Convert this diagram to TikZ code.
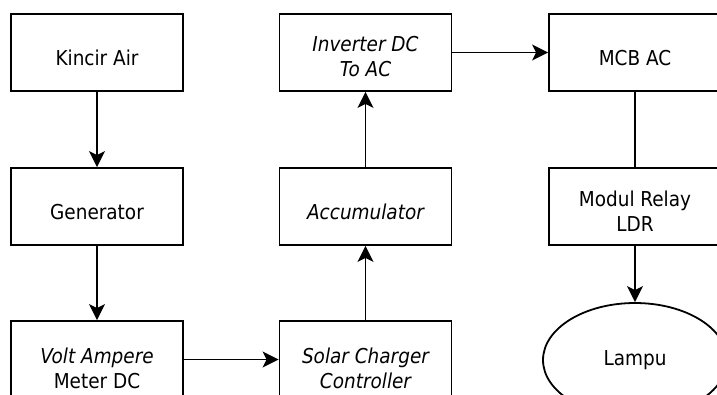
\documentclass[tikz,border=0pt]{standalone}
\usepackage{fontspec}
\setmainfont{DejaVu Sans Condensed}
\usetikzlibrary{arrows.meta,shapes.geometric}
\newcommand{\onel}[2]{\raisebox{-#1pt}[0pt][0pt]{#2}}
\newcommand{\twol}[3]{\raisebox{-#1pt}[0pt][0pt]{\begin{tabular}{@{}c@{}}#2\\#3\end{tabular}}}
\tikzset{
  blk/.style={draw, line width=1.8pt, minimum width=172pt, minimum height=77pt, inner sep=0pt,
    font=\fontsize{20.5}{24.5}\selectfont},
  oval/.style={draw, ellipse, line width=1.8pt, minimum width=184pt, minimum height=114pt, inner sep=0pt,
    font=\fontsize{20.5}{24.5}\selectfont},
  arr/.style={line width=1.8pt, -{Stealth[length=16pt,width=16pt,inset=4pt]}},
  ln/.style={line width=1.8pt}
}
\begin{document}
\begin{tikzpicture}[x=1pt,y=-1pt]
\useasboundingbox (0,0) rectangle (717,394);
\clip (0,0) rectangle (717,394);
\node[blk] (k) at (97,52.5) {\onel{13.3}{Kincir Air}};
\node[blk] (g) at (97,206.5) {\onel{13.3}{Generator}};
\node[blk] (v) at (97,359.5) {\twol{17}{\itshape Volt Ampere}{Meter DC}};
\node[blk] (s) at (365.5,359.5) {\twol{17}{\itshape Solar Charger}{\itshape Controller}};
\node[blk] (a) at (365.5,206.5) {\onel{13.3}{\itshape Accumulator}};
\node[blk] (i) at (365.5,52.5) {\twol{12}{\itshape Inverter DC}{\itshape To AC}};
\node[blk] (m) at (635,52.5) {\onel{13.3}{MCB AC}};
\node[blk] (r) at (635,206.5) {\twol{13}{Modul Relay}{LDR}};
\node[oval] (l) at (635,360) {\onel{5.3}{Lampu}};
\draw[arr] (k) -- (g);
\draw[arr] (g) -- (v);
\draw[arr] (v) -- (s);
\draw[arr] (s) -- (a);
\draw[arr] (a) -- (i);
\draw[arr] (i) -- (m);
\draw[ln] (m) -- (r);
\draw[arr] (r) -- (l);
\end{tikzpicture}
\end{document}
